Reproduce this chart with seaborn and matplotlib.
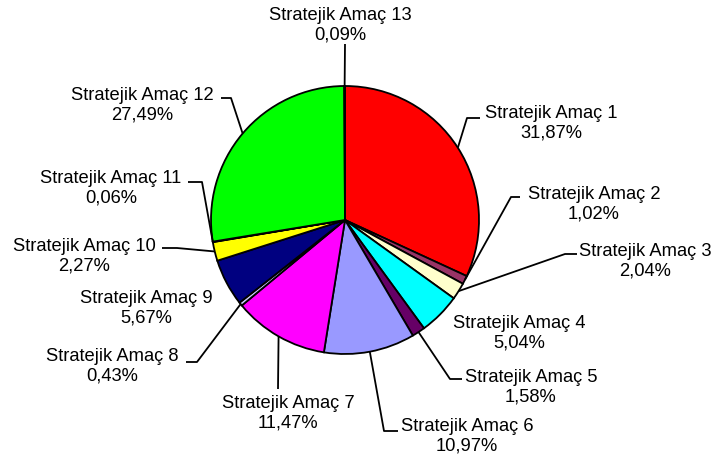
import matplotlib
matplotlib.use("Agg")
import matplotlib.pyplot as plt
import seaborn as sns

# ---- data ----
categories = [f"Stratejik Amaç {i}" for i in range(1, 14)]
values = [31.87, 1.02, 2.04, 5.04, 1.58, 10.97, 11.47, 0.43, 5.67, 2.27, 0.06, 27.49, 0.09]
value_labels = ["31,87%", "1,02%", "2,04%", "5,04%", "1,58%", "10,97%", "11,47%",
                "0,43%", "5,67%", "2,27%", "0,06%", "27,49%", "0,09%"]
colors = ["#FF0000", "#993366", "#FFFFCC", "#00FFFF", "#660066", "#9999FF", "#FF00FF",
          "#CCCCFF", "#000080", "#FFFF00", "#00FFFF", "#00FF00", "#FF0000"]

# ---- layout (pixel positions of label centres and leader elbows/ends) ----
W, H = 716, 464
CX, CY, R = 345, 221, 134
label_pos = [(551, 123), (594, 204), (645, 261), (519, 333), (531, 387), (467, 436),
             (288, 413), (112, 366), (146, 308), (84, 256), (111, 188), (142, 105), (340, 25)]
leader_pts = [
    [(467, 119), (480, 119)],
    [(511, 198), (520, 198)],
    [(565, 255), (577, 255)],
    None,
    [(450, 380), (462, 380)],
    [(384, 432), (398, 432)],
    [(278, 390)],
    [(197, 363), (186, 363)],
    None,
    [(177, 249), (162, 249)],
    [(202, 183), (188, 183)],
    [(231, 99), (221, 99)],
    [(345, 45)],
]

def to_data(p):
    return ((p[0] - CX) / R, (CY - p[1]) / R)

sns.set_theme(style="white")
plt.rcParams["font.family"] = ["Liberation Sans", "DejaVu Sans"]

fig = plt.figure(figsize=(W / 100, H / 100), dpi=100)
ax = fig.add_axes([0, 0, 1, 1])
wedges, _ = ax.pie(values, colors=colors, startangle=90, counterclock=False,
                   wedgeprops=dict(edgecolor="black", linewidth=1.3), radius=1.0)
ax.set_xlim(-CX / R, (W - CX) / R)
ax.set_ylim(-(H - CY) / R, CY / R)
ax.set_aspect("auto")
ax.axis("off")

import numpy as np
for w, cat, vl, lp, pts in zip(wedges, categories, value_labels, label_pos, leader_pts):
    mid = np.deg2rad((w.theta1 + w.theta2) / 2)
    start = (np.cos(mid), np.sin(mid))
    if pts is not None:
        xs = [start[0]] + [to_data(p)[0] for p in pts]
        ys = [start[1]] + [to_data(p)[1] for p in pts]
        ax.plot(xs, ys, color="black", linewidth=1.3, solid_capstyle="butt", zorder=1)
    tx, ty = to_data(lp)
    ax.text(tx, ty, f"{cat}\n{vl}", ha="center", va="center", multialignment="center",
            fontsize=13.2, color="black", linespacing=1.2)

fig.savefig("out.png", dpi=100, facecolor="white")
